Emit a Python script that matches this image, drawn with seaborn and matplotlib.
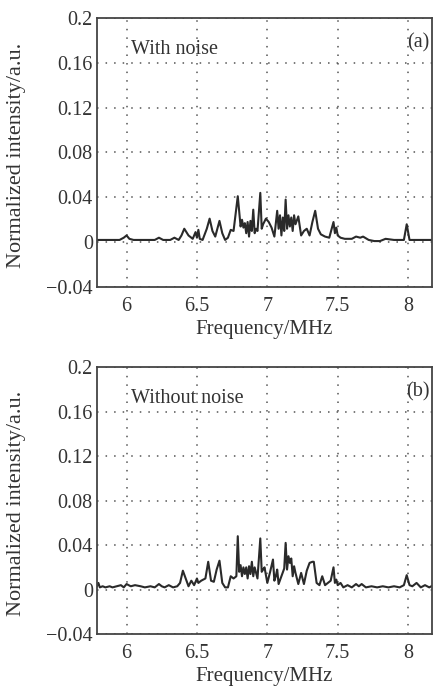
import matplotlib
matplotlib.use("Agg")
import matplotlib.pyplot as plt
import seaborn as sns
import pandas as pd

# Spectrum (a): with noise
freq_a = [5.79, 5.95, 5.98, 6.00, 6.02, 6.05, 6.20, 6.23, 6.26, 6.31,
          6.34, 6.37, 6.39, 6.41, 6.44, 6.47, 6.49, 6.50, 6.51, 6.52,
          6.54, 6.57, 6.59, 6.61, 6.63, 6.66, 6.68, 6.70, 6.72, 6.74,
          6.76, 6.79, 6.81, 6.82, 6.83, 6.84, 6.85, 6.86, 6.87, 6.88,
          6.89, 6.90, 6.91, 6.92, 6.93, 6.95, 6.96, 6.97, 6.99, 7.01,
          7.03, 7.05, 7.07, 7.08, 7.09, 7.10, 7.11, 7.12, 7.13, 7.14,
          7.15, 7.16, 7.17, 7.18, 7.19, 7.20, 7.22, 7.24, 7.26, 7.28,
          7.30, 7.32, 7.34, 7.36, 7.38, 7.41, 7.44, 7.47, 7.48, 7.49,
          7.50, 7.52, 7.55, 7.60, 7.63, 7.66, 7.68, 7.72, 7.76, 7.80,
          7.84, 7.90, 7.97, 7.99, 8.01, 8.04, 8.18]
int_a = [0.002, 0.002, 0.004, 0.006, 0.003, 0.002, 0.002, 0.004, 0.002, 0.002,
         0.004, 0.002, 0.006, 0.012, 0.006, 0.003, 0.009, 0.004, 0.011, 0.003,
         0.002, 0.012, 0.021, 0.010, 0.005, 0.019, 0.008, 0.002, 0.004, 0.011,
         0.010, 0.041, 0.014, 0.020, 0.013, 0.017, 0.008, 0.018, 0.005, 0.019,
         0.010, 0.029, 0.008, 0.012, 0.010, 0.044, 0.012, 0.016, 0.021, 0.018,
         0.013, 0.005, 0.028, 0.012, 0.024, 0.006, 0.022, 0.010, 0.038, 0.012,
         0.024, 0.014, 0.022, 0.010, 0.024, 0.016, 0.023, 0.006, 0.010, 0.012,
         0.006, 0.018, 0.028, 0.012, 0.007, 0.005, 0.004, 0.018, 0.008, 0.013,
         0.006, 0.004, 0.003, 0.003, 0.005, 0.004, 0.005, 0.002, 0.001, 0.001,
         0.003, 0.002, 0.002, 0.016, 0.002, 0.002, 0.002]

# Spectrum (b): without noise
freq_b = [5.79, 5.80, 5.81, 5.83, 5.85, 5.88, 5.90, 5.93, 5.96, 5.98,
          6.00, 6.03, 6.06, 6.10, 6.13, 6.17, 6.20, 6.23, 6.25, 6.27,
          6.30, 6.33, 6.36, 6.38, 6.40, 6.42, 6.44, 6.46, 6.48, 6.50,
          6.51, 6.53, 6.56, 6.58, 6.60, 6.62, 6.64, 6.66, 6.68, 6.70,
          6.72, 6.74, 6.76, 6.78, 6.79, 6.80, 6.81, 6.82, 6.83, 6.84,
          6.85, 6.86, 6.87, 6.88, 6.89, 6.90, 6.91, 6.93, 6.95, 6.96,
          6.97, 6.98, 7.00, 7.02, 7.04, 7.05, 7.06, 7.07, 7.08, 7.10,
          7.12, 7.13, 7.14, 7.15, 7.16, 7.17, 7.18, 7.19, 7.20, 7.22,
          7.24, 7.26, 7.28, 7.30, 7.32, 7.33, 7.35, 7.37, 7.39, 7.41,
          7.43, 7.45, 7.47, 7.48, 7.49, 7.50, 7.52, 7.54, 7.57, 7.60,
          7.63, 7.65, 7.67, 7.70, 7.74, 7.78, 7.82, 7.86, 7.90, 7.94,
          7.97, 7.99, 8.01, 8.03, 8.06, 8.09, 8.12, 8.15, 8.18]
int_b = [0.003, 0.006, 0.002, 0.003, 0.002, 0.003, 0.002, 0.003, 0.004, 0.002,
         0.005, 0.003, 0.004, 0.003, 0.002, 0.003, 0.002, 0.005, 0.003, 0.002,
         0.004, 0.002, 0.003, 0.006, 0.017, 0.010, 0.003, 0.008, 0.004, 0.010,
         0.006, 0.008, 0.010, 0.025, 0.008, 0.007, 0.018, 0.026, 0.006, 0.002,
         0.002, 0.012, 0.010, 0.012, 0.048, 0.016, 0.022, 0.012, 0.020, 0.014,
         0.020, 0.010, 0.021, 0.014, 0.025, 0.012, 0.020, 0.010, 0.046, 0.016,
         0.018, 0.020, 0.006, 0.016, 0.027, 0.008, 0.012, 0.018, 0.005, 0.012,
         0.019, 0.042, 0.018, 0.030, 0.024, 0.028, 0.012, 0.021, 0.015, 0.005,
         0.015, 0.005, 0.017, 0.024, 0.025, 0.025, 0.006, 0.004, 0.012, 0.004,
         0.006, 0.008, 0.020, 0.006, 0.009, 0.004, 0.006, 0.002, 0.004, 0.002,
         0.005, 0.003, 0.005, 0.002, 0.003, 0.002, 0.003, 0.002, 0.003, 0.002,
         0.004, 0.013, 0.004, 0.003, 0.006, 0.002, 0.004, 0.002, 0.004]

x_ticks = [6, 6.5, 7, 7.5, 8]
x_tick_labels = ["6", "6.5", "7", "7.5", "8"]
y_ticks = [-0.04, 0, 0.04, 0.08, 0.12, 0.16, 0.2]
y_tick_labels = ["\u22120.04", "0", "0.04", "0.08", "0.12", "0.16", "0.2"]
panel_texts = ["With noise", "Without noise"]
panel_tags = ["(a)", "(b)"]

sns.set_theme(style="white")
plt.rcParams['font.family'] = ['Liberation Serif', 'DejaVu Serif']

ink = "#2a2a2a"
txt = "#333333"


def draw_panel(ax, freq, inten, label, tag):
    df = pd.DataFrame({"freq": freq, "intensity": inten})
    sns.lineplot(data=df, x="freq", y="intensity", ax=ax, color=ink,
                 linewidth=1.5, estimator=None, sort=False)
    ax.set_xlim(5.79, 8.17)
    ax.set_ylim(-0.04, 0.2)
    ax.set_xticks(x_ticks)
    ax.set_xticklabels(x_tick_labels)
    ax.set_yticks(y_ticks)
    ax.set_yticklabels(y_tick_labels)
    ax.grid(True, color="#555555", linestyle=(0, (1, 4.6)), linewidth=1.1)
    ax.tick_params(direction="in", length=3, width=1, colors="#444444",
                   labelcolor=txt, labelsize=14.5)
    ax.tick_params(axis="x", pad=7)
    ax.tick_params(axis="y", pad=3)
    for s in ax.spines.values():
        s.set_color("#444444")
        s.set_linewidth(1.3)
    ax.set_xlabel("Frequency/MHz", fontsize=15, color=txt, labelpad=3)
    ax.set_ylabel("Normalized intensity/a.u.", fontsize=16, color=txt)
    ax.yaxis.set_label_coords(-0.212, 0.49)
    ax.text(6.03, 0.172, label, fontsize=14.5, color=txt,
            va="center", ha="left")
    ax.text(8.15, 0.178, tag, fontsize=14.5, color=txt,
            va="center", ha="right")


fig = plt.figure(figsize=(4.34, 6.9), dpi=100)
ax1 = fig.add_axes([0.2235, 0.584, 0.772, 0.390])
ax2 = fig.add_axes([0.2235, 0.081, 0.772, 0.387])

draw_panel(ax1, freq_a, int_a, panel_texts[0], panel_tags[0])
draw_panel(ax2, freq_b, int_b, panel_texts[1], panel_tags[1])

fig.savefig("out.png", dpi=100)
